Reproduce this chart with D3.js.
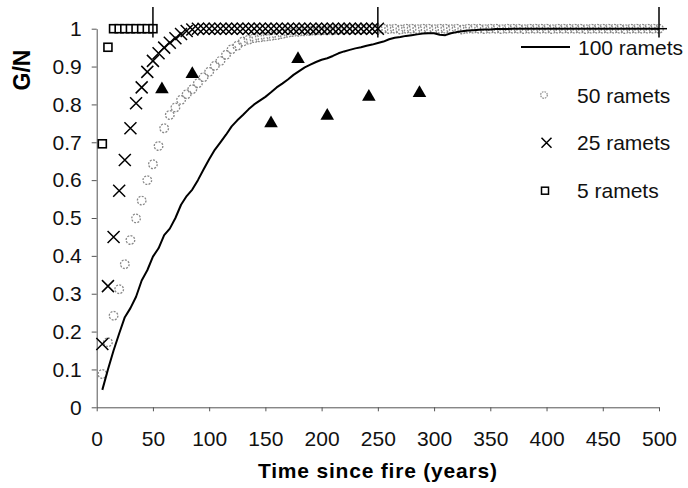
<!DOCTYPE html>
<html>
<head>
<meta charset="utf-8">
<script src="https://cdn.jsdelivr.net/npm/d3@7"></script>
<style>
  html, body { margin: 0; padding: 0; background: #fff; }
  svg { display: block; font-family: "Liberation Sans", Arial, sans-serif; }
</style>
</head>
<body>
<svg id="chart" width="688" height="488"></svg>
<script>
// Simulated recovery of genet/ramet ratio (G/N) after fire, for different ramet numbers
const years = [5,10,15,20,25,30,35,40,45,50,55,60,65,70,75,80,85,90,95,100,
  105,110,115,120,125,130,135,140,145,150,155,160,165,170,175,180,185,190,195,200,
  205,210,215,220,225,230,235,240,245,250,255,260,265,270,275,280,285,290,295,300,
  305,310,315,320,325,330,335,340,345,350,355,360,365,370,375,380,385,390,395,400,
  405,410,415,420,425,430,435,440,445,450,455,460,465,470,475,480,485,490,495,500];

// 100 ramets (solid line), years 5..500
const ramets100 = [0.046,0.100,0.150,0.195,0.238,0.262,0.292,0.335,0.362,0.398,
  0.420,0.455,0.472,0.500,0.535,0.558,0.575,0.600,0.628,0.655,
  0.680,0.700,0.720,0.742,0.758,0.772,0.787,0.800,0.810,0.820,
  0.832,0.845,0.855,0.866,0.878,0.888,0.898,0.905,0.912,0.918,
  0.922,0.928,0.935,0.940,0.944,0.948,0.951,0.955,0.958,0.962,
  0.966,0.972,0.976,0.978,0.981,0.983,0.985,0.987,0.988,0.988,
  0.984,0.983,0.988,0.991,0.993,0.995,0.996,0.997,0.998,0.998,
  0.999,0.999,0.999,1,1,1,1,1,1,1,
  1,1,1,1,1,1,1,1,1,1,
  1,1,1,1,1,1,1,1,1,1];

// 50 ramets (circles), years 5..500
const ramets50 = [0.088,0.172,0.242,0.312,0.378,0.442,0.499,0.546,0.600,0.642,
  0.690,0.737,0.772,0.792,0.812,0.827,0.840,0.856,0.872,0.886,
  0.902,0.915,0.931,0.946,0.955,0.966,0.971,0.975,0.977,0.979,
  0.981,0.983,0.986,0.989,0.991,0.992,0.993,0.994,0.995,0.995,
  0.996,0.996,0.997,0.997,0.998,0.998,0.998,0.999,0.999,0.999,
  1,0.999,1,0.998,1,1,0.999,1,1,0.999,
  1,1,0.999,1,0.998,1,1,1,0.999,1,
  1,0.999,1,1,1,0.999,1,1,1,1,
  0.999,1,1,1,1,1,0.999,1,1,1,
  1,1,1,0.999,1,1,1,1,1,1];

// 25 ramets (crosses), years 5..250
const ramets25 = [0.167,0.320,0.450,0.572,0.653,0.737,0.803,0.845,0.886,0.915,
  0.935,0.950,0.963,0.975,0.986,0.994,0.998,1,1,1,
  1,1,1,1,1,1,1,1,1,1,
  1,1,1,1,1,1,1,1,1,1,
  1,1,1,1,1,1,1,1,1,1];

// 5 ramets (squares), years 5..50
const ramets5 = [0.696,0.951,1,1,1,1,1,1,1,1];

// Field observations (filled triangles)
const obsYears = [58, 85, 155, 179, 205, 242, 287];
const obsValues = [0.84, 0.88, 0.75, 0.92, 0.77, 0.82, 0.83];

// Final year of each simulated run
const runEnds = [50, 250, 500];

const xTicks = [0,50,100,150,200,250,300,350,400,450,500];
const yTicks = [0,0.1,0.2,0.3,0.4,0.5,0.6,0.7,0.8,0.9,1];
const yTickLabels = ["0","0.1","0.2","0.3","0.4","0.5","0.6","0.7","0.8","0.9","1"];

const legendLabels = ["100 ramets", "50 ramets", "25 ramets", "5 ramets"];

const svg = d3.select("#chart");
const x = d3.scaleLinear().domain([0, 500]).range([96.7, 659]);
const y = d3.scaleLinear().domain([0, 1]).range([407.3, 28.7]);

// Axes
const xAxis = svg.append("g")
  .attr("transform", `translate(0,${y(0)})`)
  .call(d3.axisBottom(x).tickValues(xTicks).tickSize(4).tickPadding(20).tickSizeOuter(0));
const yAxis = svg.append("g")
  .attr("transform", `translate(${x(0)},0)`)
  .call(d3.axisLeft(y).tickValues(yTicks).tickFormat((d, i) => yTickLabels[i])
    .tickSize(5).tickPadding(10).tickSizeOuter(0));
[xAxis, yAxis].forEach(g => {
  g.selectAll("path, line").attr("stroke", "#555").attr("stroke-width", 1);
  g.selectAll("text").attr("font-size", 21).attr("fill", "#111")
    .attr("font-family", "'Liberation Sans', Arial, sans-serif");
});

// Axis titles
svg.append("text")
  .attr("x", (x(0) + x(500)) / 2)
  .attr("y", 478)
  .attr("text-anchor", "middle")
  .attr("font-size", 21).attr("font-weight", "bold").attr("letter-spacing", 0.8)
  .text("Time since fire (years)");
svg.append("text")
  .attr("transform", "translate(30,70) rotate(-90)")
  .attr("text-anchor", "middle")
  .attr("font-size", 23).attr("font-weight", "bold")
  .text("G/N");

const plot = svg.append("g");

// 50 ramets: grey circles
plot.append("g").selectAll("circle")
  .data(ramets50).join("circle")
  .attr("cx", (d, i) => x(years[i]))
  .attr("cy", d => y(d))
  .attr("r", 4.3)
  .attr("fill", "none")
  .attr("stroke", "#888")
  .attr("stroke-width", 1.3)
  .attr("stroke-dasharray", "2,1.3");

// 100 ramets: solid line
plot.append("path")
  .datum(ramets100)
  .attr("fill", "none")
  .attr("stroke", "#000")
  .attr("stroke-width", 2)
  .attr("stroke-linejoin", "round")
  .attr("d", d3.line().x((d, i) => x(years[i])).y(d => y(d)));

// 25 ramets: crosses
const crossHalf = 6;
plot.append("g").selectAll("path")
  .data(ramets25).join("path")
  .attr("transform", (d, i) => `translate(${x(years[i])},${y(d)})`)
  .attr("d", `M${-crossHalf},${-crossHalf}L${crossHalf},${crossHalf}M${-crossHalf},${crossHalf}L${crossHalf},${-crossHalf}`)
  .attr("stroke", "#000")
  .attr("stroke-width", 1.5)
  .attr("fill", "none");

// 5 ramets: open squares
plot.append("g").selectAll("rect")
  .data(ramets5).join("rect")
  .attr("x", (d, i) => x(years[i]) - 4)
  .attr("y", d => y(d) - 4)
  .attr("width", 8).attr("height", 8)
  .attr("fill", "#fff")
  .attr("stroke", "#000")
  .attr("stroke-width", 1.6);

// End-of-run bars
plot.append("g").selectAll("line")
  .data(runEnds).join("line")
  .attr("x1", d => x(d)).attr("x2", d => x(d))
  .attr("y1", y(1.057)).attr("y2", y(0.977))
  .attr("stroke", "#000").attr("stroke-width", 1.5);
plot.append("line")
  .attr("x1", x(runEnds[2]) - 8).attr("x2", x(runEnds[2]) + 8)
  .attr("y1", y(1)).attr("y2", y(1))
  .attr("stroke", "#000").attr("stroke-width", 1.5);

// Field observations: filled triangles
plot.append("g").selectAll("path")
  .data(obsValues).join("path")
  .attr("transform", (d, i) => `translate(${x(obsYears[i])},${y(d)})`)
  .attr("d", d3.symbol(d3.symbolTriangle, 80))
  .attr("fill", "#000");

// Legend
const lg = svg.append("g");
const legY = [47, 95, 142.7, 190.7];
lg.append("line").attr("x1", 521).attr("x2", 570).attr("y1", legY[0]).attr("y2", legY[0])
  .attr("stroke", "#000").attr("stroke-width", 2);
lg.append("circle").attr("cx", 544).attr("cy", legY[1]).attr("r", 3.3)
  .attr("fill", "none").attr("stroke", "#888").attr("stroke-width", 1.2).attr("stroke-dasharray", "1.6,1");
lg.append("path").attr("transform", `translate(546.5,${legY[2]})`)
  .attr("d", "M-5,-5L5,5M-5,5L5,-5").attr("stroke", "#000").attr("stroke-width", 1.5);
lg.append("rect").attr("x", 541.5).attr("y", legY[3] - 3.5).attr("width", 7).attr("height", 7)
  .attr("fill", "#fff").attr("stroke", "#000").attr("stroke-width", 1.5);
lg.selectAll("text.leg").data(legendLabels).join("text")
  .attr("class", "leg")
  .attr("x", (d, i) => i === 0 ? 578 : 577)
  .attr("y", (d, i) => legY[i])
  .attr("dy", "0.36em")
  .attr("font-size", 21)
  .attr("fill", "#111")
  .text(d => d);
</script>
</body>
</html>
